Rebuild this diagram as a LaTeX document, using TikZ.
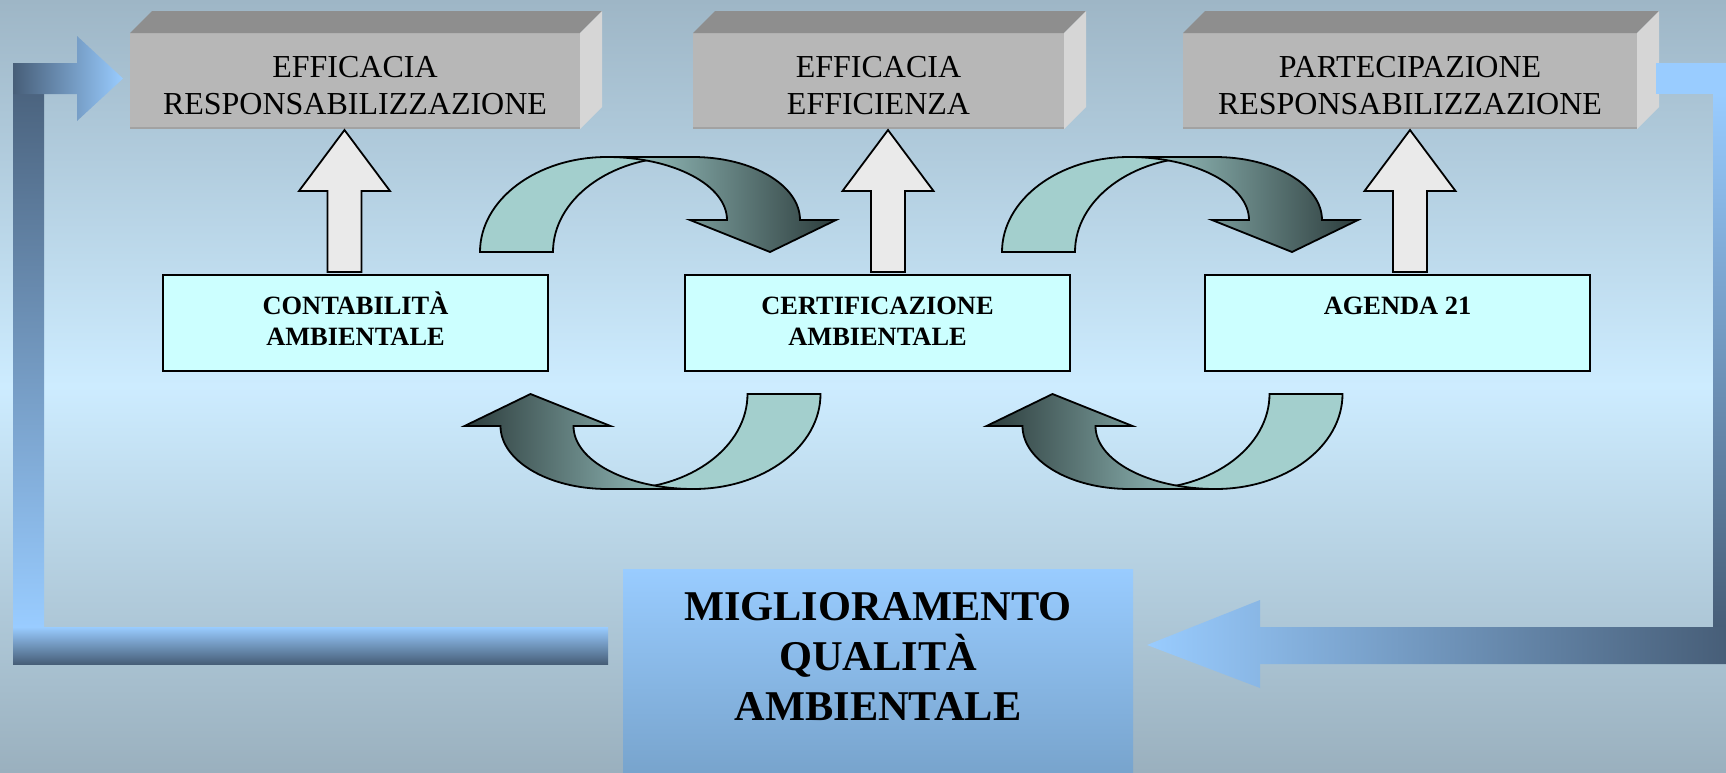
\documentclass[tikz,border=0pt]{standalone}
\usepackage{fontspec}
\setmainfont{Liberation Serif}
\usetikzlibrary{calc}
\definecolor{bgtop}{RGB}{158,182,198}
\definecolor{bgmid}{RGB}{205,236,255}
\definecolor{bgbot}{RGB}{154,176,190}
\definecolor{frontgray}{RGB}{183,183,183}
\definecolor{topgray}{RGB}{142,142,142}
\definecolor{sidegray}{RGB}{214,214,214}
\definecolor{edgegray}{RGB}{162,162,162}
\definecolor{cyanfill}{RGB}{204,255,255}
\definecolor{upfill}{RGB}{234,234,234}
\definecolor{tealL}{RGB}{163,207,205}
\definecolor{tealD}{RGB}{44,60,60}
\definecolor{bluelight}{RGB}{153,204,255}
\definecolor{bluedark}{RGB}{71,94,120}
\definecolor{bigbot}{RGB}{120,164,205}
\tikzset{
  frontbox/.style={fill=frontgray, inner sep=0pt, outer sep=0pt, anchor=north west,
    minimum height=48pt},
  fronttext/.style={align=center, inner sep=0pt, font=\fontsize{16}{18.5}\selectfont},
  cyanbox/.style={draw=black, line width=0.85pt, fill=cyanfill, inner sep=0pt, outer sep=0pt,
    anchor=north west, minimum height=48pt, minimum width=192.5pt},
  cyantext/.style={anchor=base, inner sep=0pt, font=\fontsize{13.2}{15.5}\selectfont\bfseries},
  bigbox/.style={top color=bluelight, bottom color=bigbot, draw=none, inner sep=0pt,
    outer sep=0pt, anchor=north west, minimum width=255pt, minimum height=101.5pt},
  bigtext/.style={align=center, inner sep=0pt, font=\fontsize{21.2}{25}\selectfont\bfseries},
  uparrow/.style={draw=black, line width=0.9pt, fill=upfill, line join=miter},
  bandlight/.style={draw=black, line width=0.9pt, fill=tealL, line join=miter},
  banddark/.style={draw=black, line width=0.9pt, line join=miter},
}
\newcommand{\myuparrow}[1]{%
  \draw[uparrow] (#1-17,272) -- (#1-17,191) -- (#1-45.5,191) -- (#1,130)
    -- (#1+45.5,191) -- (#1+17,191) -- (#1+17,272) -- cycle;}
\newcommand{\mycurvedown}[1]{%
  \begin{scope}[shift={(#1,0)}]
  \draw[bandlight] (480,252) arc[start angle=180,end angle=270,x radius=127,y radius=95]
    -- (680,157) arc[start angle=270,end angle=180,x radius=127,y radius=95] -- cycle;
  \draw[banddark, left color=tealL, right color=tealD] (607,157) -- (693,157)
    arc[start angle=270,end angle=360,x radius=107,y radius=63]
    -- (836,220) -- (770,252) -- (690,220) -- (727,220)
    arc[start angle=0,end angle=-90,x radius=120,y radius=63] -- cycle;
  \end{scope}}
\newcommand{\mycurveup}[1]{%
  \begin{scope}[shift={(#1,0)}]
  \draw[bandlight] (820.5,394) arc[start angle=0,end angle=90,x radius=127,y radius=95]
    -- (620.5,489) arc[start angle=90,end angle=0,x radius=127,y radius=95] -- cycle;
  \draw[banddark, left color=tealD, right color=tealL] (693.5,489) -- (607.5,489)
    arc[start angle=90,end angle=180,x radius=107,y radius=63]
    -- (464.5,426) -- (530.5,394) -- (610.5,426) -- (573.5,426)
    arc[start angle=180,end angle=90,x radius=120,y radius=63] -- cycle;
  \end{scope}}
\begin{document}
\begin{tikzpicture}[x=0.5pt,y=-0.5pt]
\useasboundingbox (0,0) rectangle (1726,772);
\shade[top color=bgtop, bottom color=bgbot, middle color=bgmid] (0,0) rectangle (1726,772);

% 3D boxes
\node[frontbox, minimum width=225pt] (e1) at (130,33) {};
\node[frontbox, minimum width=185.5pt] (e2) at (693,33) {};
\node[frontbox, minimum width=227pt] (e3) at (1183,33) {};
\foreach \n in {e1,e2,e3}{
  \fill[topgray] (\n.north west) -- ++(22,-22) -- ($(\n.north east)+(22,-22)$) -- (\n.north east) -- cycle;
  \fill[sidegray] (\n.north east) -- ++(22,-22) -- ($(\n.south east)+(22,-22)$) -- (\n.south east) -- cycle;
  \draw[edgegray, line width=1pt] ($(\n.south west)+(0,-1)$) -- ($(\n.south east)+(0,-1)$);
}
\node[fronttext] (e1t) at ($(e1.center)+(0,4.5)$) {EFFICACIA\\RESPONSABILIZZAZIONE};
\node[fronttext] (e2t) at ($(e2.center)+(0,4.5)$) {EFFICACIA\\EFFICIENZA};
\node[fronttext] (e3t) at ($(e3.center)+(0,4.5)$) {PARTECIPAZIONE\\RESPONSABILIZZAZIONE};

% cyan boxes
\node[cyanbox] (c1) at (163,275) {};
\node[cyanbox] (c2) at (685,275) {};
\node[cyanbox] (c3) at (1205,275) {};
\node[cyantext] (t1a) at ($(c1.north)+(0,39)$) {CONTABILITÀ};
\node[cyantext] (t1b) at ($(c1.north)+(0,70)$) {AMBIENTALE};
\node[cyantext] (t2a) at ($(c2.north)+(0,39)$) {CERTIFICAZIONE};
\node[cyantext] (t2b) at ($(c2.north)+(0,70)$) {AMBIENTALE};
\node[cyantext] (t3a) at ($(c3.north)+(0,39)$) {AGENDA 21};

% up arrows
\myuparrow{344.5}
\myuparrow{888}
\myuparrow{1410}

% curved arrows
\mycurvedown{0}
\mycurvedown{522}
\mycurveup{0}
\mycurveup{522}

% big box
\node[bigbox] (mq) at (623,569) {};
\node[bigtext] (mqt) at (878,657) {MIGLIORAMENTO\\QUALITÀ\\AMBIENTALE};

% left L arrow
\shade[top color=bluelight, bottom color=bluedark] (13,627) rectangle (608,664);
\shade[top color=bluedark, bottom color=bluelight] (13,63) rectangle (44,627);
\shade[left color=bluedark, right color=bluelight] (13,63) -- (77,63) -- (77,36) -- (123,78.5)
  -- (77,121) -- (77,94) -- (13,94) -- cycle;

% right L arrow
\fill[bluelight] (1656,63) rectangle (1726,94);
\shade[top color=bluelight, bottom color=bluedark] (1713,94) rectangle (1726,627);
\shade[left color=bluelight, right color=bluedark] (1147,645) -- (1260,600) -- (1260,627)
  -- (1726,627) -- (1726,664) -- (1260,664) -- (1260,688) -- cycle;
\end{tikzpicture}
\end{document}
